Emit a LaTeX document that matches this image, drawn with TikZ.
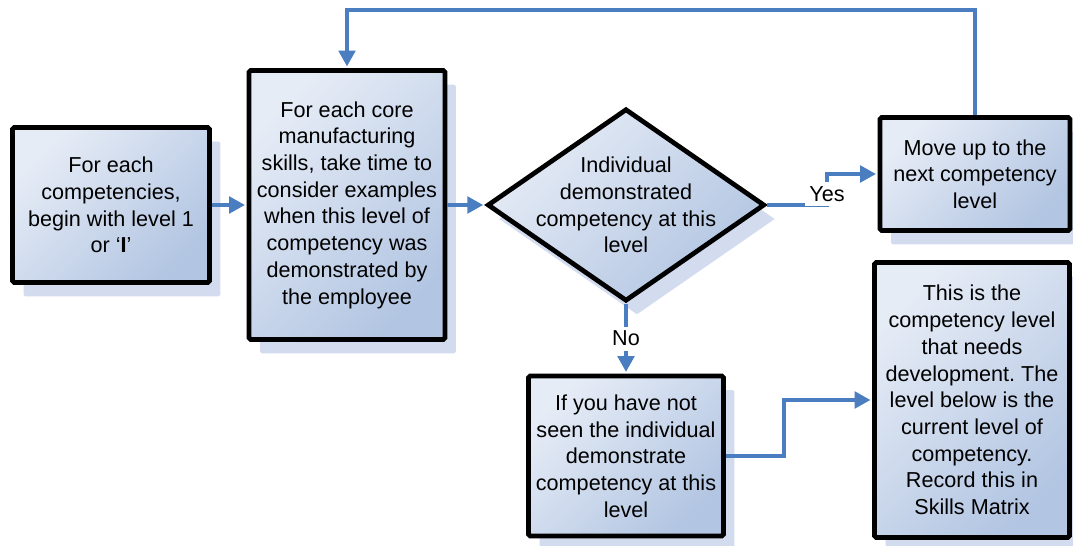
\documentclass[tikz,border=0pt]{standalone}
\usepackage{fontspec}
\setmainfont{Liberation Sans}
\usetikzlibrary{shapes.geometric,arrows.meta,shadows}
\definecolor{flowblue}{RGB}{74,126,193}
\definecolor{boxlight}{RGB}{230,236,246}
\definecolor{boxdark}{RGB}{178,197,226}
\definecolor{shadowblue}{RGB}{210,220,238}
\frenchspacing
\begin{document}
\begin{tikzpicture}[x=0.02cm, y=-0.02cm,
  font=\fontsize{12.3}{15.2}\selectfont,
  boxfill/.style={top color=boxlight, bottom color=boxdark, shading angle=45,
    drop shadow={shadow xshift=0.22cm, shadow yshift=-0.28cm, fill=shadowblue, opacity=1}},
  stepbox/.style={draw=black, line width=2.7pt, rounded corners=1pt, align=center,
    inner sep=0pt, boxfill},
  decision/.style={diamond, draw=black, line width=2.7pt, inner sep=0pt,
    minimum width=5.55cm, minimum height=3.85cm, boxfill},
  flow/.style={draw=flowblue, line width=1.9pt, shorten >=1pt,
    -{Triangle[length=9pt,width=9.5pt]}},
  answer/.style={fill=white, inner sep=2.5pt}]
\useasboundingbox (0,0) rectangle (1073,546);

\node[stepbox, minimum width=3.94cm, minimum height=3.1cm] (start) at (111,205)
  {For each\\competencies,\\begin with level 1\\or ‘\textbf{I}’};
\node[stepbox, minimum width=3.92cm, minimum height=5.38cm] (skills) at (347,205)
  {For each core\\manufacturing\\skills, take time to\\consider examples\\when this level of\\competency was\\demonstrated by\\the employee};
\node[decision, label={[align=center]center:{Individual\\demonstrated\\competency at this\\level}}] (check) at (626,205) {};
\node[stepbox, minimum width=3.8cm, minimum height=2.26cm] (moveup) at (975,174)
  {Move up to the\\next competency\\level};
\node[stepbox, minimum width=3.9cm, minimum height=3.2cm] (notseen) at (626,456)
  {If you have not\\seen the individual\\demonstrate\\competency at this\\level};
\node[stepbox, minimum width=3.9cm, minimum height=5.5cm] (record) at (972,400)
  {This is the\\competency level\\that needs\\development. The\\level below is the\\current level of\\competency.\\Record this in\\Skills Matrix};

\draw[flow] (start) -- (skills);
\draw[flow] (skills) -- (check);
\draw[flow] (check.east) -- ++(60,0) |- (moveup.west) node[answer, pos=0.18] {Yes};
\draw[flow] (moveup.north) -- ++(0,-105) -| (skills.north);
\draw[flow] (check.south) -- (notseen.north) node[answer, midway] {No};
\draw[flow] (notseen.east) -- ++(58,0) |- (record.west);
\end{tikzpicture}
\end{document}
